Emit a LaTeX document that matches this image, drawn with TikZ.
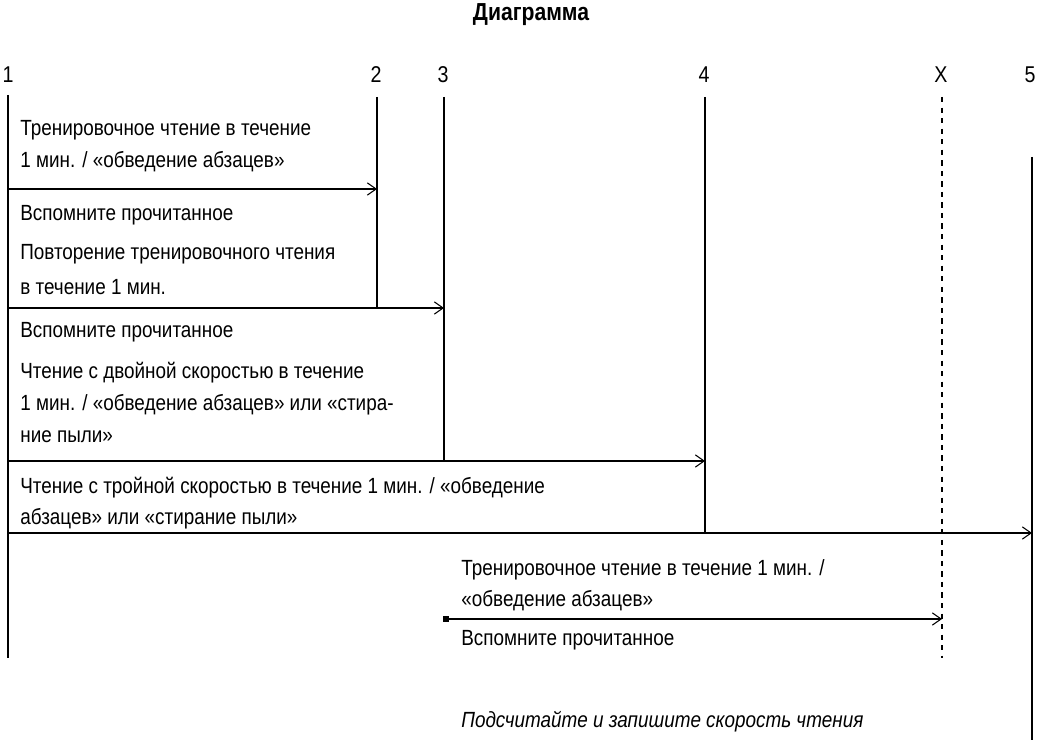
\documentclass[tikz,border=0pt]{standalone}
\usepackage{fontspec}
\setmainfont{Liberation Sans}[FakeStretch=0.86]
\usetikzlibrary{arrows.meta}
\tikzset{
  lbl/.style={anchor=west, inner sep=0pt, font=\fontsize{12.5}{14}\selectfont},
  num/.style={inner sep=0pt, font=\fontsize{13}{14}\selectfont},
  arr/.style={-{Straight Barb[length=5pt,width=7pt]}, semithick},
  ln/.style={semithick}
}
\begin{document}
\begin{tikzpicture}[x=0.02cm,y=-0.02cm]
\useasboundingbox (0,0) rectangle (1038,743);

%% title and marks
\node[num,font=\bfseries\fontsize{14}{16}\selectfont] (title) at (531,15) {Диаграмма};
\node[num] (n1) at (8,75) {1};
\node[num] (n2) at (376,75) {2};
\node[num] (n3) at (443,75) {3};
\node[num] (n4) at (704,75) {4};
\node[num] (nx) at (941,75) {X};
\node[num] (n5) at (1030,75) {5};

%% vertical lines
\coordinate (t1) at (8,95);    \coordinate (b1) at (8,658);
\coordinate (t2) at (377,97);  \coordinate (b2) at (377,308);
\coordinate (t3) at (444,97);  \coordinate (b3) at (444,461);
\coordinate (t4) at (705,97);  \coordinate (b4) at (705,533);
\coordinate (tx) at (942,97);  \coordinate (bx) at (942,658);
\coordinate (t5) at (1032,157); \coordinate (b5) at (1032,740);
\draw[ln] (t1) -- (b1);
\draw[ln] (t2) -- (b2);
\draw[ln] (t3) -- (b3);
\draw[ln] (t4) -- (b4);
\draw[ln,dashed] (tx) -- (bx);
\draw[ln] (t5) -- (b5);

%% arrows
\coordinate (s1) at (8,189);  \coordinate (e1) at (377,189);
\coordinate (s2) at (8,308);  \coordinate (e2) at (444,308);
\coordinate (s3) at (8,461);  \coordinate (e3) at (705,461);
\coordinate (s4) at (8,533);  \coordinate (e4) at (1032,533);
\coordinate (s5) at (446,619); \coordinate (e5) at (942,619);
\draw[arr] (s1) -- (e1);
\draw[arr] (s2) -- (e2);
\draw[arr] (s3) -- (e3);
\draw[arr] (s4) -- (e4);
\draw[arr] (s5) -- (e5);
\fill (s5) ++(-3,-3) rectangle ++(6,6);

%% texts
\node[lbl] (a1) at (20,130) {Тренировочное чтение в течение};
\node[lbl] (a2) at (20,162) {1 мин. / «обведение абзацев»};
\node[lbl] (b1t) at (20,215) {Вспомните прочитанное};
\node[lbl] (b2t) at (20,254) {Повторение тренировочного чтения};
\node[lbl] (b3t) at (20,287) {в течение 1 мин.};
\node[lbl] (c1) at (20,332) {Вспомните прочитанное};
\node[lbl] (c2) at (20,373) {Чтение с двойной скоростью в течение};
\node[lbl] (c3) at (20,405) {1 мин. / «обведение абзацев» или «стира-};
\node[lbl] (c4) at (20,437) {ние пыли»};
\node[lbl] (d1) at (20,488) {Чтение с тройной скоростью в течение 1 мин. / «обведение};
\node[lbl] (d2) at (20,519) {абзацев» или «стирание пыли»};
\node[lbl] (f1) at (461,570) {Тренировочное чтение в течение 1 мин. /};
\node[lbl] (f2) at (461,601) {«обведение абзацев»};
\node[lbl] (f3) at (461,640) {Вспомните прочитанное};
\node[lbl,font=\itshape\fontsize{12.5}{14}\selectfont] (g1) at (461,722) {Подсчитайте и запишите скорость чтения};
\end{tikzpicture}
\end{document}
